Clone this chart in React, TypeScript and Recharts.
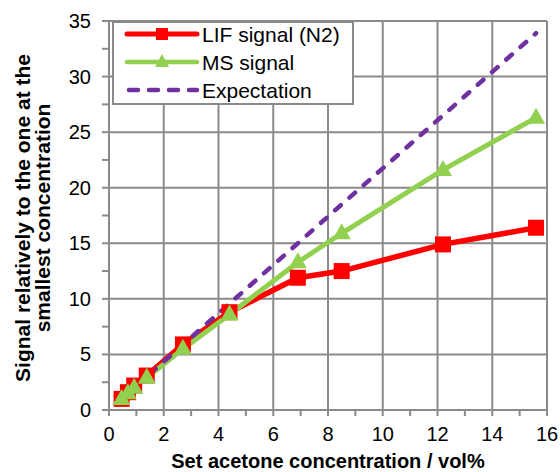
import React from 'react';
import { LineChart, Line, XAxis, YAxis, ReferenceLine, Legend } from 'recharts';

const concentration = [0.46, 0.69, 0.92, 1.38, 2.7, 4.4, 6.9, 8.5, 12.2, 15.6];
const lifSignal = [1.0, 1.6, 2.2, 3.1, 5.9, 8.8, 11.9, 12.5, 14.9, 16.4];
const msSignal = [1.0, 1.5, 2.0, 2.9, 5.5, 8.6, 13.3, 15.9, 21.6, 26.3];
const expectation = [1.0, 1.5, 2.0, 3.0, 5.87, 9.57, 15.0, 18.5, 26.5, 33.9];

const xTicks = [0, 1, 2, 3, 4, 5, 6, 7, 8, 9, 10, 11, 12, 13, 14, 15, 16];
const xLabelTicks = [0, 2, 4, 6, 8, 10, 12, 14, 16];
const yTicks = [0, 2.5, 5, 7.5, 10, 12.5, 15, 17.5, 20, 22.5, 25, 27.5, 30, 32.5, 35];
const yLabelTicks = [0, 5, 10, 15, 20, 25, 30, 35];

const legendItems = ['LIF signal (N2)', 'MS signal', 'Expectation'];

const RED = '#ff0000';
const GREEN = '#92d050';
const PURPLE = '#7030a0';
const GRID = '#8a8a8a';
const FONT = '"Liberation Sans", Arial, sans-serif';

const data = concentration.map((x, i) => ({
  x,
  lif: lifSignal[i],
  ms: msSignal[i],
  exp: expectation[i],
}));

const Square = (props: any) => {
  const { cx, cy } = props;
  return <rect x={cx - 8} y={cy - 8} width={16} height={16} fill={RED} />;
};

const Triangle = (props: any) => {
  const { cx, cy } = props;
  return <polygon points={`${cx},${cy - 10} ${cx + 9},${cy + 6} ${cx - 9},${cy + 6}`} fill={GREEN} />;
};

const XTick = (props: any) => {
  const { x, y, payload } = props;
  if (!xLabelTicks.includes(payload.value)) return <g />;
  return (
    <text x={x} y={y} dy="0.71em" textAnchor="middle" fontSize={20} fill="#000" fontFamily={FONT}>
      {payload.value}
    </text>
  );
};

const YTick = (props: any) => {
  const { x, y, payload } = props;
  if (!yLabelTicks.includes(payload.value)) return <g />;
  return (
    <text x={x} y={y} dy="0.35em" textAnchor="end" fontSize={20} fill="#000" fontFamily={FONT}>
      {payload.value}
    </text>
  );
};

const LegendBox = () => (
  <svg width={244} height={85} style={{ display: 'block' }}>
    <rect x={1} y={1} width={240} height={82} fill="#fff" stroke={GRID} strokeWidth={2} />
    {/* LIF */}
    <line x1={15} y1={13} x2={85} y2={13} stroke={RED} strokeWidth={5} strokeLinecap="round" />
    <rect x={44} y={7} width={12} height={12} fill={RED} />
    {/* MS */}
    <line x1={15} y1={41} x2={85} y2={41} stroke={GREEN} strokeWidth={4.5} strokeLinecap="round" />
    <polygon points="50,33 57,46 43,46" fill={GREEN} />
    {/* Expectation */}
    <line x1={17} y1={69} x2={85} y2={69} stroke={PURPLE} strokeWidth={4.5} strokeLinecap="round" strokeDasharray="9 11" />
    {legendItems.map((t, i) => (
      <text key={t} x={90} y={13 + i * 28} dy="0.36em" fontSize={21} fontFamily={FONT} fill="#000">
        {t}
      </text>
    ))}
  </svg>
);

export default function App() {
  return (
    <div style={{ position: 'absolute', left: 0, top: 0, background: '#fff' }}>
      <LineChart width={560} height={472} data={data} margin={{ top: 21, right: 13, left: 0, bottom: 0 }}>
        {xLabelTicks.slice(1).map((v) => (
          <ReferenceLine key={'gx' + v} x={v} stroke={GRID} strokeWidth={2} />
        ))}
        {yLabelTicks.slice(1).map((v) => (
          <ReferenceLine key={'gy' + v} y={v} stroke={GRID} strokeWidth={2} />
        ))}
        <XAxis
          type="number"
          dataKey="x"
          domain={[0, 16]}
          ticks={xTicks}
          interval={0}
          height={62}
          tick={<XTick />}
          tickSize={6}
          tickMargin={11}
          axisLine={{ stroke: GRID, strokeWidth: 2 }}
          tickLine={{ stroke: GRID, strokeWidth: 2 }}
          label={() => (
            <text
              x={328}
              y={468}
              textAnchor="middle"
              fontSize={20}
              fontWeight="bold"
              fontFamily={FONT}
              fill="#000"
            >
              Set acetone concentration / vol%
            </text>
          )}
        />
        <YAxis
          type="number"
          domain={[0, 35]}
          ticks={yTicks}
          interval={0}
          width={109}
          tick={<YTick />}
          tickSize={7}
          tickMargin={11}
          axisLine={{ stroke: GRID, strokeWidth: 2 }}
          tickLine={{ stroke: GRID, strokeWidth: 2 }}
          label={() => (
            <g fontSize={21} fontWeight="bold" fontFamily={FONT} fill="#000">
              <text transform="translate(30,218) rotate(-90)" textAnchor="middle">
                Signal relatively to the one at the
              </text>
              <text transform="translate(50,218) rotate(-90)" textAnchor="middle">
                smallest concentration
              </text>
            </g>
          )}
        />
        <Legend
          layout="vertical"
          align="center"
          verticalAlign="middle"
          content={() => <LegendBox />}
          wrapperStyle={{ position: 'absolute', left: 112, top: 21, width: 244, height: 85 }}
        />
        <Line
          dataKey="lif"
          stroke={RED}
          strokeWidth={5.5}
          dot={<Square />}
          isAnimationActive={false}
        />
        <Line
          dataKey="ms"
          stroke={GREEN}
          strokeWidth={5}
          dot={<Triangle />}
          isAnimationActive={false}
        />
        <Line
          dataKey="exp"
          stroke={PURPLE}
          strokeWidth={4.5}
          strokeDasharray="7.5 11.5"
          strokeLinecap="round"
          dot={false}
          isAnimationActive={false}
        />
      </LineChart>
    </div>
  );
}
